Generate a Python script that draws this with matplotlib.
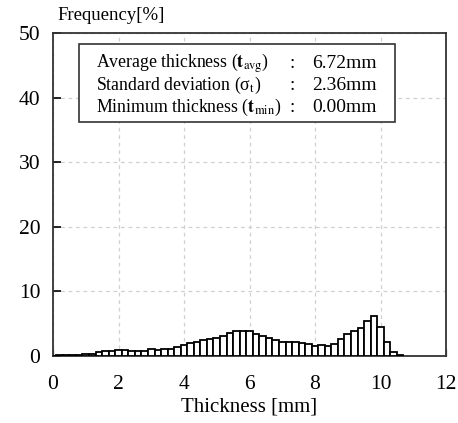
import matplotlib
matplotlib.use("Agg")
import matplotlib.pyplot as plt
import numpy as np

plt.rcParams['font.family'] = ['Liberation Serif', 'DejaVu Serif']
plt.rcParams['mathtext.fontset'] = 'stix'

# Histogram data: bin centres [mm] and frequency [%]
bin_centers = [0.0, 0.2, 0.4, 0.6, 0.8, 1.0, 1.2, 1.4, 1.6, 1.8,
               2.0, 2.2, 2.4, 2.6, 2.8, 3.0, 3.2, 3.4, 3.6, 3.8,
               4.0, 4.2, 4.4, 4.6, 4.8, 5.0, 5.2, 5.4, 5.6, 5.8,
               6.0, 6.2, 6.4, 6.6, 6.8, 7.0, 7.2, 7.4, 7.6, 7.8,
               8.0, 8.2, 8.4, 8.6, 8.8, 9.0, 9.2, 9.4, 9.6, 9.8,
               10.0, 10.2, 10.4, 10.6]
frequency = [0.05, 0.1, 0.1, 0.1, 0.15, 0.25, 0.3, 0.55, 0.7, 0.85,
             0.9, 0.95, 0.85, 0.85, 0.85, 1.1, 0.95, 1.05, 1.15, 1.35,
             1.75, 2.0, 2.2, 2.45, 2.7, 2.75, 3.1, 3.55, 3.8, 3.8,
             3.8, 3.45, 3.1, 2.8, 2.5, 2.2, 2.2, 2.2, 2.05, 1.8,
             1.5, 1.7, 1.6, 1.8, 2.6, 3.45, 3.85, 4.4, 5.35, 6.15,
             4.5, 2.1, 0.65, 0.15]
bin_width = 0.2

x_ticks = [0, 2, 4, 6, 8, 10, 12]
y_ticks = [0, 10, 20, 30, 40, 50]

stat_labels = [r'Average thickness ($\mathbf{t}_{\mathrm{avg}}$)',
               r'Standard deviation (σ$_{\mathrm{t}}$)',
               r'Minimum thickness ($\mathbf{t}_{\mathrm{min}}$)']
stat_values = ['6.72mm', '2.36mm', '0.00mm']

fig = plt.figure(figsize=(4.58, 4.23), dpi=100)
ax = fig.add_axes([53/458, (423-356)/423, (446-53)/458, (356-33)/423])

ax.bar(bin_centers, frequency, width=bin_width, color='white',
       edgecolor='black', linewidth=1.3, zorder=3)

ax.set_xlim(0, 12)
ax.set_ylim(0, 50)
ax.set_xticks(x_ticks)
ax.set_yticks(y_ticks)
ax.grid(True, color='#d0d0d0', linestyle=(0, (3, 3)), linewidth=0.9, zorder=0)
ax.tick_params(axis='y', direction='in', length=6, width=1.2, color='black',
               labelsize=15.5, pad=9)
ax.tick_params(axis='x', direction='in', length=5, width=1.0, color='#888888',
               labelsize=15.5, pad=14)
for s in ax.spines.values():
    s.set_linewidth(1.3)
    s.set_color('#333333')

ax.set_xlabel('Thickness [mm]', fontsize=15, labelpad=2)
fig.text(57/458, 1 - 15/423, 'Frequency[%]', fontsize=13.5, ha='left', va='center')

# statistics box
box_l, box_r = (79-53)/(446-53), (395-53)/(446-53)
box_b, box_t = (356-122)/(356-33), (356-44)/(356-33)
ax.add_patch(plt.Rectangle((box_l, box_b), box_r - box_l, box_t - box_b,
                           transform=ax.transAxes, facecolor='white',
                           edgecolor='#333333', linewidth=1.2, zorder=4))
row_y = [63, 85, 107]
for lab, val, yy in zip(stat_labels, stat_values, row_y):
    yf = (356 - yy) / (356 - 33)
    ax.text((96-53)/(446-53), yf, lab, transform=ax.transAxes, fontsize=12.8,
            ha='left', va='center', zorder=5)
    ax.text((292-53)/(446-53), yf, ':', transform=ax.transAxes, fontsize=13.5,
            ha='center', va='center', zorder=5)
    ax.text((312-53)/(446-53), yf, val, transform=ax.transAxes, fontsize=14,
            ha='left', va='center', zorder=5)

fig.savefig('out.png', dpi=100)
